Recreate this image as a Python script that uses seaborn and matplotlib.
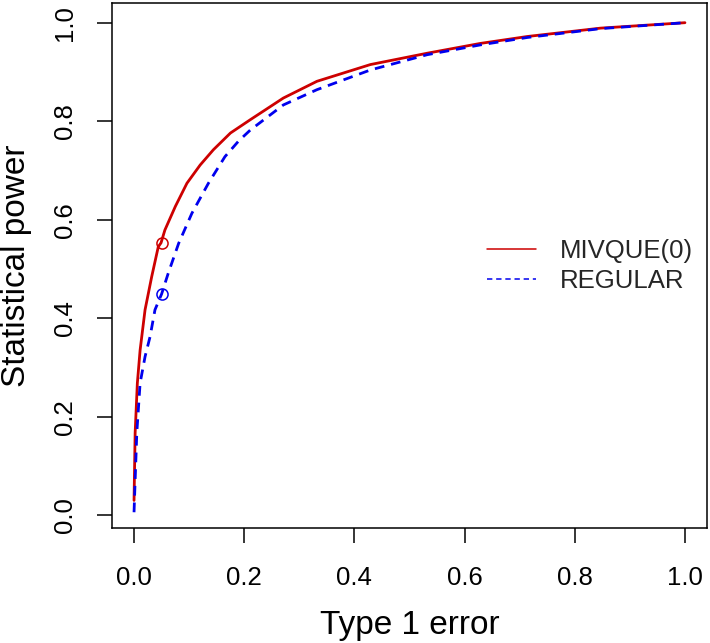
import numpy as np
import pandas as pd
import matplotlib
matplotlib.use("Agg")
import matplotlib.pyplot as plt
import seaborn as sns

# Data (ROC style curves)
mivque_x = [0.0, 0.002, 0.006, 0.011, 0.02, 0.032, 0.044, 0.049, 0.056, 0.075, 0.096,
            0.12, 0.144, 0.175, 0.211, 0.271, 0.332, 0.429, 0.532, 0.629, 0.714, 0.847, 1.0]
mivque_y = [0.03, 0.167, 0.268, 0.335, 0.417, 0.484, 0.545, 0.553, 0.579, 0.627, 0.674,
            0.711, 0.742, 0.776, 0.803, 0.847, 0.881, 0.915, 0.938, 0.958, 0.972, 0.989, 1.0]
regular_x = [0.0, 0.005, 0.011, 0.02, 0.029, 0.038, 0.05, 0.062, 0.081, 0.105, 0.135,
             0.165, 0.19, 0.211, 0.271, 0.332, 0.429, 0.532, 0.629, 0.714, 0.847, 1.0]
regular_y = [0.006, 0.167, 0.268, 0.322, 0.362, 0.417, 0.449, 0.491, 0.552, 0.613, 0.674,
             0.728, 0.760, 0.782, 0.833, 0.864, 0.904, 0.935, 0.955, 0.970, 0.988, 1.0]

# points marked at alpha = 0.05
mark_x = [0.05, 0.05]
mark_y = [0.553, 0.449]

methods = ["MIVQUE(0)", "REGULAR"]
colors = {"MIVQUE(0)": "#CD0000", "REGULAR": "#0000EE"}

df = pd.concat([
    pd.DataFrame({"x": mivque_x, "y": mivque_y, "method": methods[0]}),
    pd.DataFrame({"x": regular_x, "y": regular_y, "method": methods[1]}),
], ignore_index=True)

sns.set_style("ticks")
plt.rcParams["font.family"] = ["Liberation Sans", "DejaVu Sans"]

fig = plt.figure(figsize=(7.1, 6.43), dpi=100)
ax = fig.add_axes([112 / 710, 1 - 528 / 643, 595 / 710, 525 / 643])

sns.lineplot(data=df, x="x", y="y", hue="method", style="method",
             palette=colors, dashes={"MIVQUE(0)": "", "REGULAR": (3.5, 2.5)},
             sort=False, estimator=None, linewidth=2.0, ax=ax)

for mx, my, m in zip(mark_x, mark_y, methods):
    ax.plot(mx, my, marker="o", markersize=8, mfc="none", mec=colors[m], mew=1.1)

ax.set_xlim(-0.04, 1.04)
ax.set_ylim(-0.026, 1.04)
ax.set_xticks([0.0, 0.2, 0.4, 0.6, 0.8, 1.0])
ax.set_yticks([0.0, 0.2, 0.4, 0.6, 0.8, 1.0])
ax.set_xticklabels(["0.0", "0.2", "0.4", "0.6", "0.8", "1.0"])
ax.set_yticklabels(["0.0", "0.2", "0.4", "0.6", "0.8", "1.0"], rotation=90, va="center")

for s in ax.spines.values():
    s.set_visible(True)
    s.set_color("black")
    s.set_linewidth(1.1)

ax.tick_params(axis="both", direction="out", length=10.5, width=1.1, color="black",
               labelsize=18.5, labelcolor="black")
ax.tick_params(axis="x", pad=17)
ax.tick_params(axis="y", pad=15)

ax.set_xlabel("Type 1 error", fontsize=24, color="black")
ax.set_ylabel("Statistical power", fontsize=24, color="black")
ax.xaxis.set_label_coords(0.5, -0.156)
ax.yaxis.set_label_coords(-0.1345, 0.5)

leg = ax.legend(loc="center left", bbox_to_anchor=(0.630, 0.499), frameon=False,
                fontsize=18.5, handlelength=1.9, handletextpad=0.95, labelspacing=0.2,
                borderpad=0, borderaxespad=0)
for line in leg.get_lines():
    line.set_linewidth(1.1)

fig.savefig("out.png", dpi=100)
